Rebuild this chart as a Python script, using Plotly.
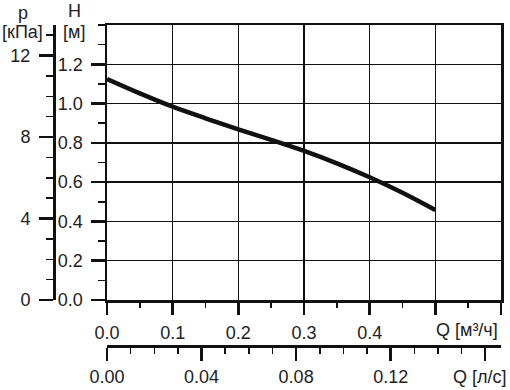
import plotly.graph_objects as go

# ---- data ----
Q_m3h = [0.0, 0.05, 0.10, 0.15, 0.20, 0.25, 0.30, 0.35, 0.40, 0.45, 0.50]
H_m = [1.125, 1.052, 0.984, 0.925, 0.869, 0.815, 0.759, 0.696, 0.625, 0.546, 0.458]
H_ticks = [0.0, 0.2, 0.4, 0.6, 0.8, 1.0, 1.2]
H_ticktext = ["0.0", "0.2", "0.4", "0.6", "0.8", "1.0", "1.2"]
p_ticks = [0, 4, 8, 12]
Qm_ticks = [0.0, 0.1, 0.2, 0.3, 0.4, 0.5, 0.6]
Qm_ticktext = ["0.0", "0.1", "0.2", "0.3", "0.4", "", ""]
Ql_ticks = [0.0, 0.04, 0.08, 0.12, 0.16]
Ql_ticktext = ["0.00", "0.04", "0.08", "0.12", ""]

G = 9.81   # kPa per metre of head
M3H_PER_LS = 3.6

W, Hh = 510, 390
ML, MR, MT, MB = 0, 9, 25, 10
PW = W - ML - MR
PH = Hh - MT - MB

def px(x):
    return (x - ML) / PW

def py(y):
    return (Hh - MB - y) / PH

FONT = "Liberation Sans, Arial, sans-serif"
TC = "#222222"
LC = "#111111"
FS = 18

fig = go.Figure()
fig.add_trace(go.Scatter(x=Q_m3h, y=H_m, mode="lines", line=dict(color=LC, width=4.5, shape="spline"),
                         hoverinfo="skip", showlegend=False))
# same curve in the second units (invisible), to bind the secondary axes
fig.add_trace(go.Scatter(x=[q / M3H_PER_LS for q in Q_m3h], y=[h * G for h in H_m], mode="lines",
                         line=dict(color="rgba(0,0,0,0)", width=0), xaxis="x2", yaxis="y2",
                         hoverinfo="skip", showlegend=False))

x_dom = [px(107), 1]
y_bot = py(300)

common_tick = dict(tickfont=dict(family=FONT, size=FS, color=TC), ticks="outside", tickcolor=LC,
                   showline=True, linecolor=LC, zeroline=False, automargin=False)

fig.update_layout(
    width=W, height=Hh, margin=dict(l=ML, r=MR, t=MT, b=MB, autoexpand=False),
    paper_bgcolor="white", plot_bgcolor="white", showlegend=False, hovermode=False,
    xaxis=dict(domain=x_dom, range=[0, 0.6], tickvals=Qm_ticks, ticktext=Qm_ticktext,
               ticklen=12, tickwidth=2.5, linewidth=2.5, mirror=True,
               showgrid=True, gridcolor=LC, gridwidth=1.3, anchor="y",
               minor=dict(dtick=0.05, ticklen=5, tickwidth=1.5, tickcolor=LC, ticks="outside", showgrid=False),
               ticklabelstandoff=3, **common_tick),
    yaxis=dict(domain=[y_bot, 1], range=[0, 1.4], tickvals=H_ticks, ticktext=H_ticktext,
               ticklen=14, tickwidth=2.5, linewidth=2.5, mirror=True,
               showgrid=True, gridcolor=LC, gridwidth=1.3, anchor="x",
               minor=dict(dtick=0.1, ticklen=7, tickwidth=1.5, tickcolor=LC, ticks="outside", showgrid=False),
               ticklabelstandoff=4, **common_tick),
    xaxis2=dict(domain=x_dom, range=[0, 0.6 / M3H_PER_LS], tickvals=Ql_ticks, ticktext=Ql_ticktext,
                overlaying="x", anchor="free", position=py(346), side="bottom",
                ticklen=13, tickwidth=2.5, linewidth=2.5, showgrid=False,
                minor=dict(dtick=0.01, ticklen=6, tickwidth=1.5, tickcolor=LC, ticks="outside", showgrid=False),
                ticklabelstandoff=1, **common_tick),
    yaxis2=dict(domain=[y_bot, py(30)], range=[0, 13.5], tickvals=p_ticks,
                overlaying="y", anchor="free", position=px(54), side="left",
                ticklen=14, tickwidth=2.5, linewidth=2.5, showgrid=False,
                minor=dict(dtick=1, ticklen=7, tickwidth=1.5, tickcolor=LC, ticks="outside", showgrid=False),
                ticklabelstandoff=5, **common_tick),
)

def ann(text, x, y, xanchor="center"):
    fig.add_annotation(text=text, x=px(x), y=py(y), xref="paper", yref="paper", showarrow=False,
                       xanchor=xanchor, yanchor="middle", font=dict(family=FONT, size=FS, color=TC))

ann("p", 23, 13)
ann("[кПа]", 22, 32)
ann("H", 74, 11)
ann("[м]", 74, 32)
ann("Q [м³/ч]", 434, 330, "left")
ann("Q [л/с]", 451, 377, "left")

fig.write_html("out.html", config={"displayModeBar": False, "staticPlot": True},
               post_script="document.body.style.margin='0';document.body.style.overflow='hidden';")
